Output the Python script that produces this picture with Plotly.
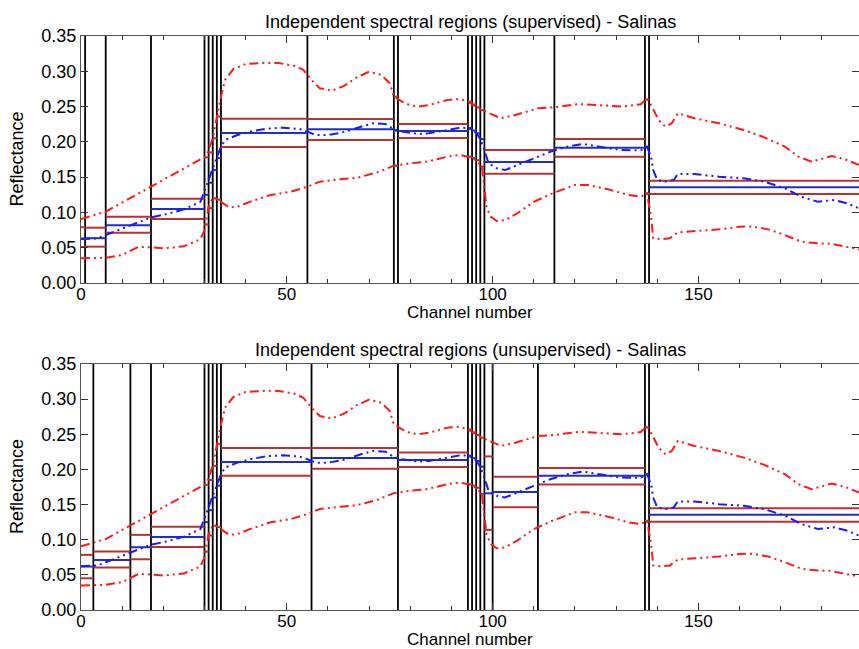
import plotly.graph_objects as go

# ---------------- data ----------------
# Mean spectrum (blue dash-dot-dot)
mean_x = [0, 4, 6, 10, 14, 17, 21, 25, 29, 30, 31, 32, 33, 34, 35, 38, 41, 45, 49, 53, 55, 57, 60, 64, 68, 71, 74, 76,
          78, 82, 84.5, 89, 92, 94, 96, 97, 98, 99, 101, 103, 106, 110, 114, 118, 122, 126, 131, 136, 137.5, 138.5,
          139, 140, 142, 144, 145, 149, 155, 161, 166, 171, 175, 179, 183, 186, 189]
mean_y = [0.0623, 0.0633, 0.068, 0.0775, 0.0869, 0.093, 0.0978, 0.1044, 0.115, 0.1294, 0.146, 0.1625, 0.1767, 0.193,
          0.2026, 0.2097, 0.2144, 0.2187, 0.22, 0.2184, 0.2144, 0.2097, 0.2095, 0.214, 0.2215, 0.2263, 0.2253, 0.2177,
          0.2145, 0.2111, 0.2121, 0.2168, 0.22, 0.2197, 0.2131, 0.2036, 0.1885, 0.1696, 0.1625, 0.16, 0.167, 0.1767,
          0.186, 0.193, 0.197, 0.193, 0.1885, 0.188, 0.193, 0.179, 0.16, 0.146, 0.1436, 0.146, 0.1545, 0.1545,
          0.1506, 0.1483, 0.1436, 0.1342, 0.1223, 0.1152, 0.1176, 0.113, 0.1058]

# Mean + std (upper red dash-dot-dot)
upper_x = [0, 6, 17, 29, 30.5, 32, 33, 34, 35, 37, 40, 45, 48, 52, 54, 56, 58, 61, 64, 67, 70, 73, 75, 76, 78, 80,
           82, 84.5, 89, 92, 94, 97.4, 102, 105.5, 111, 115, 121, 126.5, 131.5, 136, 137.5, 138.7, 140.3, 142, 143.5,
           145, 149, 155, 161, 166, 171, 174.3, 177.5, 182.4, 185.6, 189]
upper_y = [0.0907, 0.101, 0.1365, 0.175, 0.18, 0.205, 0.2357, 0.264, 0.2877, 0.303, 0.3103, 0.312, 0.3117, 0.3075,
           0.302, 0.2877, 0.276, 0.2725, 0.2796, 0.2914, 0.2994, 0.2947, 0.283, 0.264, 0.257, 0.2517, 0.25, 0.2522,
           0.2593, 0.2607, 0.257, 0.245, 0.2334, 0.238, 0.2475, 0.249, 0.2536, 0.2522, 0.25, 0.2532, 0.2617, 0.25,
           0.231, 0.2215, 0.2263, 0.2404, 0.2334, 0.2263, 0.2168, 0.2064, 0.1932, 0.179, 0.1719, 0.18, 0.1753, 0.1672]

# Mean - std (lower red dash-dot-dot)
lower_x = [0, 6, 10, 14, 17, 20, 25, 29, 30, 31, 32, 33, 34, 36, 38, 41, 46, 51, 55, 58, 63, 67, 72, 76, 80, 84,
           89, 92, 94, 96, 97.4, 98, 98.5, 99.5, 101, 103, 106, 110, 114.5, 120, 123, 128, 133, 136, 137.5, 138.5,
           139, 141, 143, 145, 150, 155, 160, 163, 167, 171, 175, 179, 182, 186, 189]
lower_y = [0.035, 0.0357, 0.0397, 0.0514, 0.0505, 0.049, 0.052, 0.0619, 0.075, 0.108, 0.12, 0.119, 0.115, 0.107,
           0.108, 0.115, 0.1247, 0.1294, 0.1365, 0.1436, 0.147, 0.149, 0.1568, 0.1663, 0.1696, 0.1719, 0.179, 0.1814,
           0.179, 0.174, 0.1648, 0.1365, 0.108, 0.094, 0.0878, 0.089, 0.0988, 0.115, 0.127, 0.139, 0.139, 0.1328,
           0.1247, 0.1223, 0.127, 0.094, 0.0633, 0.062, 0.0633, 0.0718, 0.0737, 0.076, 0.0798, 0.08, 0.076, 0.068,
           0.0585, 0.0562, 0.0557, 0.0514, 0.0477]

# Supervised region boundaries and region statistics
sup_bounds = [0, 1, 6, 17, 30, 31, 32, 33, 34, 55, 76, 77, 94, 95, 96, 97, 98, 115, 137, 138, 189]
sup_upper = [0.079, 0.0784, 0.094, 0.1195, 0.178, 0.185, 0.205, 0.236, 0.2328, 0.2325, 0.264, 0.2253,
             0.257, 0.253, 0.249, 0.245, 0.1885, 0.204, 0.260, 0.145]
sup_mean = [0.063, 0.0635, 0.0817, 0.1049, 0.125, 0.142, 0.160, 0.177, 0.2125, 0.2177, 0.216, 0.2154,
            0.2197, 0.216, 0.212, 0.204, 0.1715, 0.1917, 0.193, 0.1356]
sup_lower = [0.051, 0.0515, 0.0713, 0.0907, 0.083, 0.106, 0.120, 0.118, 0.1927, 0.2026, 0.166, 0.2055,
             0.179, 0.177, 0.174, 0.165, 0.1549, 0.179, 0.127, 0.1261]

# Unsupervised region boundaries and region statistics
uns_bounds = [0, 3, 12, 17, 30, 31, 32, 33, 34, 56, 77, 94, 95, 96, 97, 98, 100, 111, 137, 138, 189]
uns_upper = [0.0784, 0.0831, 0.1069, 0.1183, 0.178, 0.185, 0.205, 0.236, 0.2304, 0.2304, 0.2242,
             0.257, 0.253, 0.249, 0.245, 0.2185, 0.1895, 0.2019, 0.260, 0.1449]
uns_mean = [0.0618, 0.0712, 0.0893, 0.104, 0.125, 0.142, 0.160, 0.177, 0.2104, 0.2161, 0.2133,
            0.2197, 0.216, 0.212, 0.204, 0.166, 0.1677, 0.191, 0.193, 0.1354]
uns_lower = [0.0451, 0.0603, 0.0722, 0.0898, 0.083, 0.106, 0.120, 0.118, 0.191, 0.2009, 0.2033,
             0.179, 0.177, 0.174, 0.165, 0.114, 0.1463, 0.1786, 0.127, 0.1254]

titles = ["Independent spectral regions (supervised) - Salinas",
          "Independent spectral regions (unsupervised) - Salinas"]
x_label = "Channel number"
y_label = "Reflectance"
x_range = [0, 189]
y_range = [0, 0.35]
y_ticks = [0, 0.05, 0.10, 0.15, 0.20, 0.25, 0.30, 0.35]
x_ticks = [0, 50, 100, 150]

# ---------------- styles ----------------
FONT = "Liberation Sans, Arial, Helvetica, sans-serif"
DASH = "9px,4px,2px,4px,2px,4px"
RED = "#ff1a1a"
BLUE = "#1a1aff"
REG_RED = "#b83232"
REG_BLUE = "#1f2fc0"

fig = go.Figure()


def seg_xy(bounds, vals):
    xs, ys = [], []
    for i, v in enumerate(vals):
        xs += [bounds[i], bounds[i + 1], None]
        ys += [v, v, None]
    return xs, ys


def add_panel(xa, ya, bounds, up, mu, lo):
    # vertical separators at interior boundaries
    vx, vy = [], []
    for b in bounds[1:-1]:
        vx += [b, b, None]
        vy += [y_range[0], y_range[1], None]
    fig.add_trace(go.Scatter(x=vx, y=vy, mode="lines", line=dict(color="black", width=1.8),
                             xaxis=xa, yaxis=ya, showlegend=False, hoverinfo="skip"))
    # region mean +/- std segments
    for vals, col in ((up, REG_RED), (lo, REG_RED), (mu, REG_BLUE)):
        sx, sy = seg_xy(bounds, vals)
        fig.add_trace(go.Scatter(x=sx, y=sy, mode="lines", line=dict(color=col, width=2),
                                 xaxis=xa, yaxis=ya, showlegend=False, hoverinfo="skip"))
    # spectral curves
    fig.add_trace(go.Scatter(x=upper_x, y=upper_y, mode="lines", line=dict(color=RED, width=2, dash=DASH),
                             xaxis=xa, yaxis=ya, showlegend=False))
    fig.add_trace(go.Scatter(x=lower_x, y=lower_y, mode="lines", line=dict(color=RED, width=2, dash=DASH),
                             xaxis=xa, yaxis=ya, showlegend=False))
    fig.add_trace(go.Scatter(x=mean_x, y=mean_y, mode="lines", line=dict(color=BLUE, width=2, dash=DASH),
                             xaxis=xa, yaxis=ya, showlegend=False))


add_panel("x", "y", sup_bounds, sup_upper, sup_mean, sup_lower)
add_panel("x2", "y2", uns_bounds, uns_upper, uns_mean, uns_lower)

top_dom = [0.5697, 1.0]
bot_dom = [0.0, 0.4286]

xcommon = dict(range=x_range, tickvals=x_ticks, ticks="inside", ticklen=7, tickcolor="#333",
               showline=True, linecolor="#555", linewidth=1, mirror="ticks", showgrid=False, zeroline=False,
               tickfont=dict(size=17, color="black", family=FONT), ticklabelstandoff=-4,
               minor=dict(dtick=10, tick0=0, ticks="inside", ticklen=4, tickcolor="#333", showgrid=False))
ycommon = dict(range=y_range, tickvals=y_ticks, tickformat=".2f", ticks="inside", ticklen=7, tickcolor="#333",
               showline=True, linecolor="#555", linewidth=1, mirror="ticks", showgrid=False, zeroline=False,
               tickfont=dict(size=18, color="black", family=FONT))

fig.update_layout(
    width=859, height=649,
    margin=dict(l=81, r=0, t=36, b=39),
    paper_bgcolor="white", plot_bgcolor="white",
    font=dict(family=FONT, size=18, color="black"),
    xaxis=dict(domain=[0, 1], anchor="y", **xcommon),
    yaxis=dict(domain=top_dom, anchor="x", **ycommon),
    xaxis2=dict(domain=[0, 1], anchor="y2", **xcommon),
    yaxis2=dict(domain=bot_dom, anchor="x2", **ycommon),
)

ann = []
for t, dom in zip(titles, (top_dom, bot_dom)):
    ann.append(dict(text=t, xref="paper", yref="paper", x=0.5, y=dom[1], xanchor="center", yanchor="bottom",
                    yshift=2, showarrow=False, font=dict(size=18)))
    ann.append(dict(text=x_label, xref="paper", yref="paper", x=0.5, y=dom[0], xanchor="center", yanchor="top",
                    yshift=-19, borderpad=0, showarrow=False, font=dict(size=17)))
    ann.append(dict(text=y_label, xref="paper", yref="paper", x=0, y=(dom[0] + dom[1]) / 2, xanchor="center",
                    yanchor="middle", xshift=-64, textangle=-90, showarrow=False, font=dict(size=18)))
fig.update_layout(annotations=ann)

fig.write_html("out.html")
